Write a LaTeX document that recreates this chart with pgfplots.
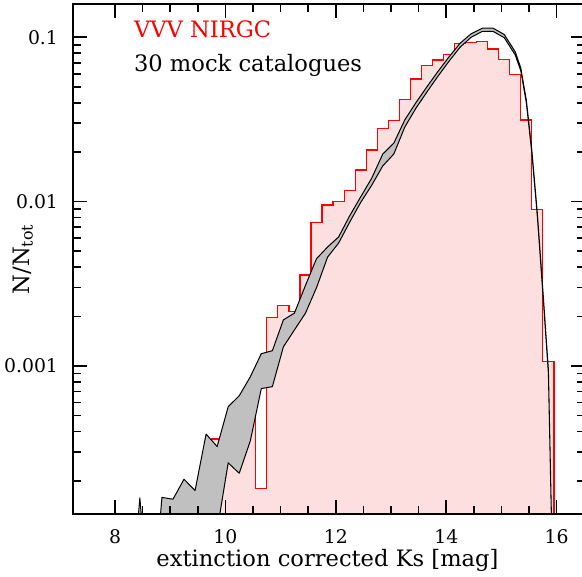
\documentclass[border=0pt]{standalone}
\usepackage{pgfplots}
\pgfplotsset{compat=1.18}
\usepackage{fontspec}
\setmainfont{DejaVu Serif}
\usetikzlibrary{calc}
\definecolor{histpink}{RGB}{253,223,223}
\definecolor{bandgray}{RGB}{192,192,192}
\newcommand{\tickfont}{\fontsize{9.4}{11}\selectfont}
\newcommand{\labfont}{\fontsize{11.3}{13}\selectfont}
\begin{document}
\begin{tikzpicture}
\begin{axis}[
  scale only axis, width=256pt, height=255pt,
  xmin=7.239, xmax=16.513,
  ymode=log, ymin=1.26e-4, ymax=0.1594,
  xtick={8,10,12,14,16}, minor x tick num=3,
  ytick={0.001,0.01,0.1}, yticklabels={0.001,0.01,0.1},
  minor ytick={2e-4,3e-4,4e-4,5e-4,6e-4,7e-4,8e-4,9e-4,2e-3,3e-3,4e-3,5e-3,6e-3,7e-3,8e-3,9e-3,2e-2,3e-2,4e-2,5e-2,6e-2,7e-2,8e-2,9e-2},
  tick align=inside, major tick length=7pt, minor tick length=4pt,
  axis line style={line width=1pt},
  every tick/.style={black, line width=0.8pt},
  axis on top,
  /pgf/number format/assume math mode=true,
  tick label style={font=\tickfont},
  xticklabel style={yshift=-4pt},
  yticklabel style={xshift=-4pt},
  xlabel={extinction corrected Ks [mag]},
  ylabel={N/N\textsubscript{tot}},
  label style={font=\labfont},
  xlabel style={at={(axis description cs:0.497,-0.0902)}, anchor=center},
  ylabel style={at={(axis description cs:-0.0977,0.5)}, anchor=center},
]
% VVV NIRGC histogram (left bin edges, value)
\addplot[const plot, draw=red, fill=histpink, line width=0.6pt] coordinates {
(9.75,1e-5) (9.75,3.6e-4) (9.95,3.8e-4) (10.15,5.5e-4) (10.35,7.0e-4)
(10.55,1.80e-4) (10.75,1.98e-3) (10.95,2.34e-3) (11.15,2.16e-3)
(11.35,3.58e-3) (11.55,7.45e-3) (11.75,9.55e-3) (11.95,1.00e-2)
(12.15,1.17e-2) (12.35,1.56e-2) (12.55,2.06e-2) (12.75,2.79e-2)
(12.95,3.11e-2) (13.15,4.20e-2) (13.35,5.57e-2) (13.55,6.72e-2)
(13.75,7.28e-2) (13.95,7.88e-2) (14.15,9.19e-2) (14.35,9.33e-2)
(14.55,9.40e-2) (14.75,8.49e-2) (14.95,7.35e-2) (15.15,5.96e-2)
(15.35,3.14e-2) (15.55,9.0e-3) (15.75,1.07e-3) (15.95,1.07e-3) (15.95,1e-5)
};
% 30 mock catalogues: envelope (upper, then lower reversed)
\addplot[draw=black, fill=bandgray, line width=0.5pt, line join=round] coordinates {
(8.05,1e-6) (8.25,2.5e-5) (8.45,1.58e-4) (8.65,2.5e-5) (8.85,1.59e-4)
(9.05,1.55e-4) (9.25,2.05e-4) (9.45,1.75e-4) (9.65,3.86e-4) (9.85,3.24e-4)
(10.05,5.66e-4) (10.25,6.6e-4) (10.45,8.6e-4) (10.65,1.19e-3) (10.85,1.24e-3)
(11.05,1.91e-3) (11.25,2.10e-3) (11.45,3.1e-3) (11.65,4.5e-3) (11.85,5.3e-3)
(12.05,6.1e-3) (12.25,8.2e-3) (12.45,1.07e-2) (12.65,1.39e-2) (12.85,1.95e-2)
(13.05,2.27e-2) (13.25,3.15e-2) (13.45,4.0e-2) (13.65,5.0e-2) (13.85,6.2e-2)
(14.05,7.6e-2) (14.25,9.2e-2) (14.45,0.105) (14.65,0.1135) (14.85,0.1135)
(15.05,0.104) (15.25,0.0815) (15.35,0.065) (15.45,0.0416) (15.55,0.0206)
(15.65,8.5e-3) (15.75,2.9e-3) (15.85,9.5e-4) (15.95,2.3e-5)
(15.95,2.2e-5) (15.85,9.0e-4) (15.75,2.75e-3) (15.65,8.1e-3) (15.55,1.98e-2)
(15.45,4.0e-2) (15.35,6.25e-2) (15.25,7.8e-2) (15.05,9.95e-2) (14.85,0.1085)
(14.65,0.1085) (14.45,0.100) (14.25,8.7e-2) (14.05,7.15e-2) (13.85,5.8e-2)
(13.65,4.65e-2) (13.45,3.7e-2) (13.25,2.85e-2) (13.05,1.95e-2) (12.85,1.65e-2)
(12.65,1.26e-2) (12.45,9.9e-3) (12.25,7.5e-3) (12.05,5.6e-3) (11.85,4.6e-3)
(11.65,3.0e-3) (11.45,2.1e-3) (11.25,1.66e-3) (11.05,1.31e-3) (10.85,7.5e-4)
(10.65,7.3e-4) (10.45,3.5e-4) (10.25,2.23e-4) (10.05,2.58e-4) (9.85,1.0e-4)
} -- cycle;
\node[anchor=base west, text=red, font=\labfont] at (rel axis cs:0.1055,0.935) {VVV NIRGC};
\node[anchor=base west, text=black, font=\labfont] at (rel axis cs:0.1055,0.867) {30 mock catalogues};
\end{axis}
\pgfresetboundingbox
\path[use as bounding box] ($(current axis.south west)+(-36.5pt,-31.5pt)$) rectangle ($(current axis.north east)+(-1.5pt,2pt)$);
\end{tikzpicture}
\end{document}
